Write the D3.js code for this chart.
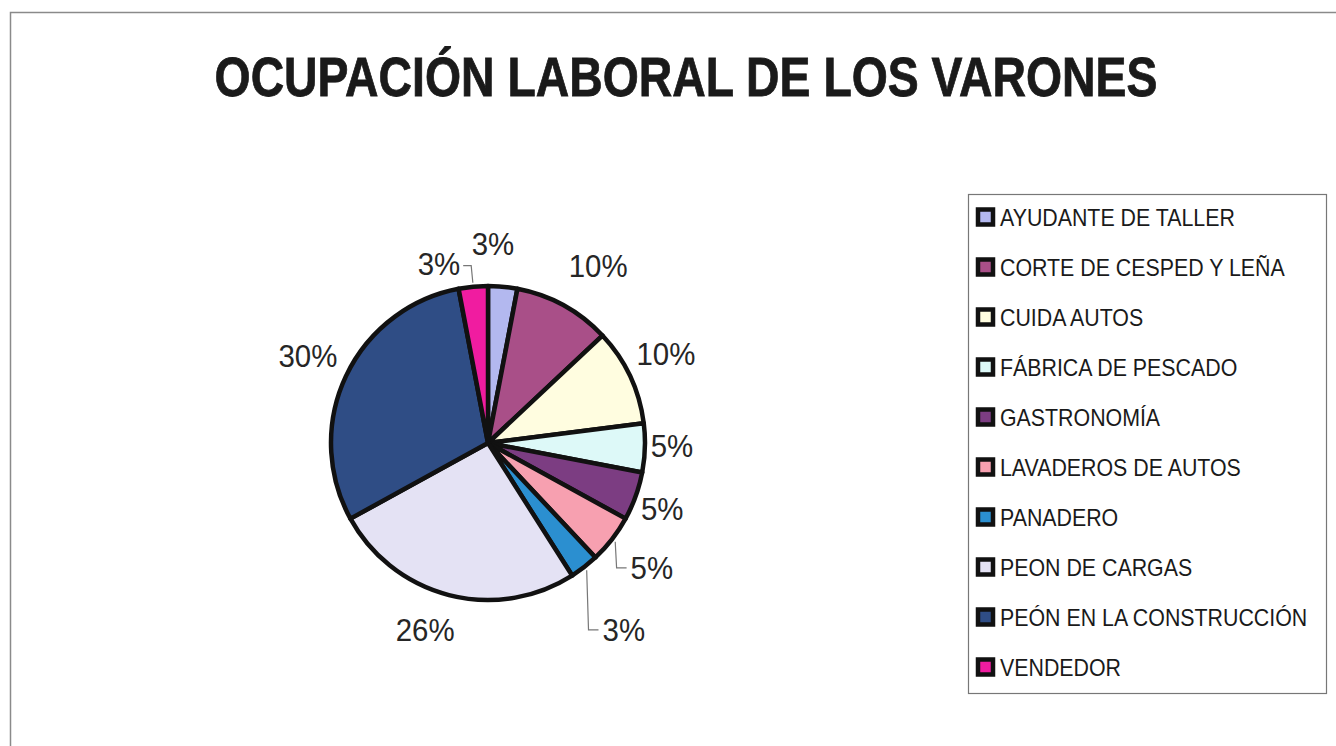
<!DOCTYPE html>
<html>
    <head>
        <title>Ocupación laboral de los varones</title>
        <script src="https://d3js.org/d3.v7.min.js"></script>
        <style>
         body { margin: 0; background: #fff; }
         svg { display: block; font-family: "Liberation Sans", Arial, sans-serif; }
        </style>
    </head>
    <body>
        <svg width="1336" height="746"></svg>

        <script>
         // chart data
         const categories = [
             "AYUDANTE DE TALLER",
             "CORTE DE CESPED Y LEÑA",
             "CUIDA AUTOS",
             "FÁBRICA DE PESCADO",
             "GASTRONOMÍA",
             "LAVADEROS DE AUTOS",
             "PANADERO",
             "PEON DE CARGAS",
             "PEÓN EN LA CONSTRUCCIÓN",
             "VENDEDOR"
         ];
         const percents = [3, 10, 10, 5, 5, 5, 3, 26, 30, 3];
         const colors = ["#b3b8ef", "#a94f88", "#fffde0", "#ddf9f8", "#7c3d82",
                         "#f7a0b0", "#2b8fd0", "#e4e2f4", "#2f4d85", "#f01ca0"];

         // label placement (Excel moved some labels around)
         const labelRadius = [200, 209, 199, 184, 186, 206, 231, 197, 200, 186];
         const labelShift  = [-4, 3, -1.4, -0.9, 0.7, -0.5, 1.8, 4.2, 0.6, -9.9];   // degrees
         const hasLeader   = [false, false, false, false, false, true, true, false, false, true];

         const svg = d3.select("svg");
         const width = +svg.attr("width");
         const height = +svg.attr("height");

         // outer frame
         svg.append("rect")
            .attr("x", 10.5).attr("y", 12.5)
            .attr("width", width).attr("height", height)
            .attr("fill", "none")
            .attr("stroke", "#8a8a8a")
            .attr("stroke-width", 1.5);

         // title, squeezed to the width seen in the scan
         const title = svg.append("text")
            .attr("text-anchor", "middle")
            .attr("font-size", 56)
            .attr("font-weight", "bold")
            .attr("fill", "#1a1a1a")
            .attr("stroke", "#1a1a1a")
            .attr("stroke-width", 0.8)
            .text("OCUPACIÓN LABORAL DE LOS VARONES");
         const tw = title.node().getComputedTextLength();
         title.attr("transform", `translate(686,96) scale(${943 / tw},1)`);

         const cx = 488, cy = 443, r = 157;
         const g = svg.append("g").attr("transform", `translate(${cx},${cy})`);

         const pie = d3.pie().sort(null).value(d => d);
         const arcs = pie(percents);
         const arc = d3.arc().innerRadius(0).outerRadius(r);

         g.selectAll("path.slice")
          .data(arcs)
          .join("path")
          .attr("class", "slice")
          .attr("d", arc)
          .attr("fill", (d, i) => colors[i])
          .attr("stroke", "#111")
          .attr("stroke-width", 4.5)
          .attr("stroke-linejoin", "round");

         // percentage labels
         const fs = 32;
         const sx = 0.92;
         const polar = (rad, deg) => {
             const a = deg * Math.PI / 180;
             return [rad * Math.sin(a), -rad * Math.cos(a)];
         };

         arcs.forEach((d, i) => {
             const mid = (d.startAngle + d.endAngle) / 2 * 180 / Math.PI;
             const [lx, ly] = polar(labelRadius[i], mid + labelShift[i]);
             const txt = percents[i] + "%";

             const t = g.append("text")
                        .attr("transform", `translate(${lx},${ly}) scale(${sx},1)`)
                        .attr("text-anchor", "middle")
                        .attr("dy", "0.36em")
                        .attr("font-size", fs)
                        .attr("fill", "#262626")
                        .text(txt);

             if (hasLeader[i]) {
                 const w = t.node().getComputedTextLength() * sx;
                 const [ex, ey] = polar(r + 4, mid);
                 const right = lx > 0;
                 const endX = right ? lx - w / 2 - 4 : lx + w / 2 + 3;
                 const kneeX = right ? endX - 10 : endX + 8;
                 const kneeY = right ? ly : ly + 2;
                 g.append("polyline")
                  .attr("points", [[ex, ey], [kneeX, kneeY], [endX, kneeY]].map(p => p.join(",")).join(" "))
                  .attr("fill", "none")
                  .attr("stroke", "#777")
                  .attr("stroke-width", 1.2);
             }
         });

         // legend
         const legend = svg.append("g");
         legend.append("rect")
               .attr("x", 968.5).attr("y", 194.5)
               .attr("width", 358).attr("height", 499)
               .attr("fill", "#fff")
               .attr("stroke", "#777")
               .attr("stroke-width", 1.2);

         const rows = legend.selectAll("g.item")
                            .data(categories)
                            .join("g")
                            .attr("class", "item")
                            .attr("transform", (d, i) => `translate(978,${217 + i * 50})`);

         rows.append("rect")
             .attr("x", 0).attr("y", -7.5)
             .attr("width", 15).attr("height", 15)
             .attr("fill", (d, i) => colors[i])
             .attr("stroke", "#111")
             .attr("stroke-width", 4.5);

         rows.append("text")
             .attr("transform", "translate(22,0) scale(0.89,1)")
             .attr("dy", "0.36em")
             .attr("font-size", 24)
             .attr("fill", "#1a1a1a")
             .text(d => d);
        </script>
    </body>
</html>
